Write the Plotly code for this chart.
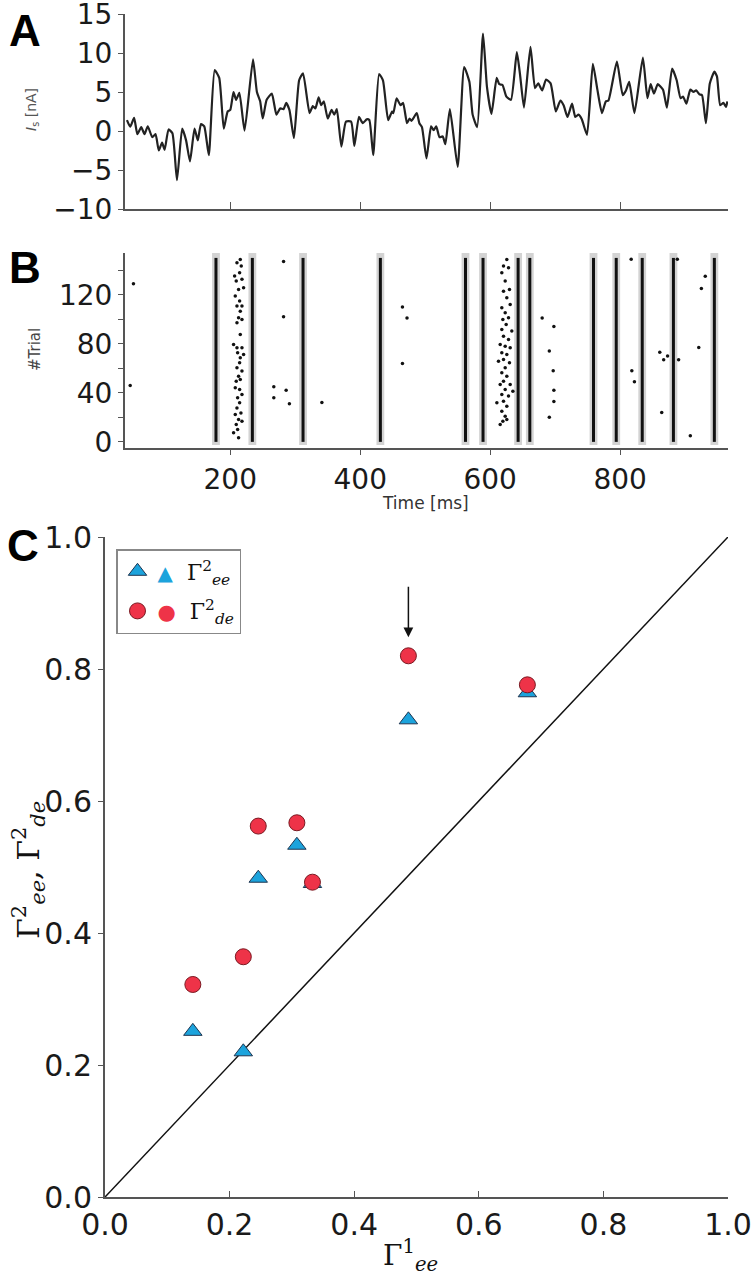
import plotly.graph_objects as go

# ---------------- Panel A: input current ----------------
time_a = [41, 46, 52, 57, 63, 68, 73, 80, 85, 90, 95, 99, 105, 111, 118, 126, 132, 138, 145, 150,
          155, 160, 167, 176, 183, 190, 196, 200, 205, 209, 214, 222, 235, 241, 246, 250, 256, 264,
          271, 277, 282, 286, 291, 298, 306, 312, 322, 327, 331, 336, 340, 344, 350, 356, 360, 364,
          371, 378, 386, 391, 398, 404, 410, 414, 420, 429, 435, 443, 449, 451, 456, 462, 466, 472,
          476, 479, 487, 491, 495, 502, 509, 513, 517, 522, 527, 531, 538, 550, 560, 568, 573, 580,
          589, 595, 602, 610, 614, 619, 625, 632, 641, 646, 652, 662, 669, 674, 680, 686, 693, 701,
          708, 713, 719, 726, 731, 736, 741, 749, 758, 765, 772, 778, 782, 795, 804, 809, 814, 822,
          835, 842, 847, 852, 858, 866, 872, 880, 887, 893, 897, 902, 908, 913, 917, 922, 926, 932,
          938, 945, 949, 954, 959, 963, 965]
current_a = [1.4, 0.55, 1.7, -0.4, 0.5, -0.4, 0.6, -0.8, -0.4, -2.5, -1.5, -2.4, 0.2, -0.3, -6.3,
             0.3, -1.2, -3.9, 0.3, -1.2, 0.9, 0.6, -3.1, 7.8, 6.8, 0.3, 2.5, 2.7, 5.0, 4.0, 4.9, 0.05,
             9.2, 5.0, 3.8, 1.6, 4.0, 4.8, 2.1, 2.9, 2.8, 3.6, 2.7, -0.9, 6.5, 7.4, 2.3, 3.2, 2.9, 4.3,
             3.3, 3.8, 1.6, 2.7, 2.1, 2.8, -2.0, 1.2, 1.2, -1.9, 1.8, 1.0, 1.5, 1.4, -3.1, 7.3, 6.5,
             1.4, 2.5, 2.3, 4.2, 3.3, 3.6, 1.0, 1.6, 1.3, 2.3, 1.0, 0.5, -3.5, 0.6, 0.1, 0.6, -0.8,
             -0.7, -1.7, 2.8, -4.6, 8.2, 6.3, 2.1, 0.5, 12.5, 5.7, 2.2, 6.8, 6.0, 5.9, 4.4, 4.0, 10.1,
             7.2, 3.0, 10.8, 5.5, 6.1, 5.2, 6.6, 6.1, 2.5, 3.9, 3.3, 1.8, 3.5, 1.8, 2.1, 1.5, -0.5,
             8.6, 5.3, 2.3, 3.8, 3.9, 8.9, 4.6, 5.2, 6.3, 2.3, 9.4, 4.2, 6.0, 4.8, 6.0, 5.3, 3.0, 8.0,
             6.5, 4.2, 4.4, 3.5, 5.3, 5.0, 5.2, 4.7, 4.6, 1.0, 6.1, 7.6, 7.0, 3.3, 3.6, 3.1, 3.8]

# ---------------- Panel B: raster ----------------
band_times = [178, 234, 312, 431, 562, 589, 643, 661, 759, 794, 834, 882, 945]
trial_span = [0, 150]
band_halfwidth = 6
extra_t = [215.4, 210.3, 216.9, 206.7, 214.4, 209.2, 218.0, 212.8, 220.5, 207.7, 214.4, 210.3, 218.0,
           215.4, 212.8, 218.0, 210.3, 215.4, 205.1, 210.3, 218.0, 211.3, 220.5, 215.4, 214.4, 210.3,
           218.0, 212.8, 215.4, 209.2, 207.7, 214.4, 218.0, 211.3, 214.4, 210.3, 216.4, 207.7, 212.8,
           218.0, 209.2, 211.3, 205.1, 212.8,
           625.6, 620.5, 628.2, 617.9, 623.1, 620.5, 629.7, 625.6, 617.9, 630.8, 623.1, 619.5, 628.2,
           624.6, 617.9, 633.3, 620.5, 628.2, 615.4, 623.1, 630.8, 617.9, 625.6, 620.5, 612.8, 629.7,
           623.1, 617.9, 625.6, 620.5, 615.4, 630.8, 623.1, 634.9, 617.9, 628.2, 610.3, 620.5, 625.6,
           617.9, 623.1, 619.5, 615.4, 625.6,
           51, 46, 282, 282, 267, 267, 286, 291, 341, 465, 472, 465, 680, 698, 691, 697, 698, 698, 691,
           817, 818, 822, 861, 867, 873, 890, 864, 888, 908, 921, 925, 931]
extra_trial = [148.8, 146.0, 143.3, 135.2, 137.9, 131.1, 132.5, 124.3, 125.7, 118.9, 114.8, 110.7,
               110.7, 106.6, 101.2, 99.8, 97.1, 87.6, 79.4, 76.7, 76.7, 72.6, 71.3, 68.6, 64.5, 60.4,
               57.7, 53.6, 50.9, 49.5, 44.1, 42.7, 38.6, 35.9, 31.8, 27.7, 23.6, 22.3, 18.2, 16.8,
               14.1, 10.1, 7.4, 3.3,
               148.8, 143.3, 142.0, 137.9, 131.1, 122.9, 124.3, 117.5, 109.3, 112.1, 105.2, 99.8,
               101.2, 95.7, 91.6, 90.3, 86.2, 83.5, 79.4, 78.0, 76.7, 72.6, 71.3, 67.2, 65.8, 64.5,
               60.4, 56.3, 53.6, 49.5, 46.8, 46.8, 42.7, 41.3, 38.6, 37.3, 31.8, 33.1, 29.1, 25.0,
               20.9, 16.8, 14.1, 18.2,
               129, 46, 147, 102, 45, 36, 42, 31, 32, 110, 101, 64, 101, 94, 74, 58, 42, 33, 20,
               149, 58, 49, 73, 67, 70, 67, 24, 149, 5, 77, 125, 135]

# ---------------- Panel C: scatter ----------------
gamma1_ee = [0.141, 0.222, 0.246, 0.308, 0.333, 0.487, 0.678]
gamma2_ee = [0.251, 0.220, 0.483, 0.533, 0.475, 0.723, 0.764]
gamma2_de = [0.322, 0.364, 0.562, 0.567, 0.477, 0.820, 0.776]
diag = [0, 1]
arrow_x, arrow_y_from, arrow_y_to = 0.487, 0.927, 0.848

BLUE, BLUE_EDGE = "#1ca3dc", "#1f3550"
RED, RED_EDGE = "#ee3348", "#7a1a22"

W, H = 755, 1280
def px(x):
    return x / W
def py(y):
    return 1 - y / H

TICKFONT = dict(family="DejaVu Sans", size=28, color="#1a1a1a")
TICKFONT_C = dict(family="DejaVu Sans", size=30, color="#1a1a1a")
AXCOL = "#555555"

fig = go.Figure()

# Panel A
fig.add_trace(go.Scatter(x=time_a, y=current_a, mode="lines",
                         line=dict(color="#222222", width=2.2, shape="spline", smoothing=0.5),
                         xaxis="x", yaxis="y", showlegend=False))

# Panel B: bands
bx, by = [], []
for t in band_times:
    bx += [t, t, None]
    by += [trial_span[0], trial_span[1], None]
fig.add_trace(go.Scatter(x=bx, y=by, mode="lines", line=dict(color="#111111", width=3),
                         xaxis="x2", yaxis="y2", showlegend=False))
fig.add_trace(go.Scatter(x=extra_t, y=extra_trial, mode="markers",
                         marker=dict(color="#111111", size=3.5),
                         xaxis="x2", yaxis="y2", showlegend=False))
for t in band_times:
    fig.add_shape(type="rect", xref="x2", yref="y2", x0=t - band_halfwidth, x1=t + band_halfwidth,
                  y0=-2.5, y1=155, fillcolor="#d3d3d3", line=dict(width=0), layer="below")

# Panel C
fig.add_trace(go.Scatter(x=diag, y=diag, mode="lines", line=dict(color="#111111", width=1.5),
                         xaxis="x3", yaxis="y3", showlegend=False))
fig.add_trace(go.Scatter(x=gamma1_ee, y=gamma2_ee, mode="markers", legendgroup="ee",
                         name=f"<span style='color:{BLUE};font-size:20px'>▲</span>  Γ<sup>2</sup><sub><i>ee</i></sub>",
                         marker=dict(symbol="triangle-up", size=16, color=BLUE,
                                     line=dict(color=BLUE_EDGE, width=1)),
                         xaxis="x3", yaxis="y3"))
fig.add_trace(go.Scatter(x=gamma1_ee, y=gamma2_de, mode="markers", legendgroup="de",
                         name=f"<span style='color:{RED};font-size:21px'>●</span>  Γ<sup>2</sup><sub><i>de</i></sub>",
                         marker=dict(symbol="circle", size=16, color=RED,
                                     line=dict(color=RED_EDGE, width=1)),
                         xaxis="x3", yaxis="y3"))

fig.add_annotation(x=arrow_x, y=arrow_y_to, ax=arrow_x, ay=arrow_y_from, xref="x3", yref="y3",
                   axref="x3", ayref="y3", showarrow=True, arrowhead=2, arrowsize=1.3,
                   arrowwidth=1.5, arrowcolor="#111111", text="")

xdomA = [px(125), px(728)]
common = dict(showgrid=False, zeroline=False, showline=True, linecolor=AXCOL, linewidth=2,
              tickcolor=AXCOL, mirror=False, automargin=False, ticklabeloverflow="allow")

fig.update_layout(
    width=W, height=H, margin=dict(l=0, r=0, t=0, b=0, autoexpand=False),
    paper_bgcolor="white", plot_bgcolor="white",
    xaxis=dict(domain=xdomA, range=[38, 966], anchor="y", tickvals=[200, 400, 600, 800],
               showticklabels=False, ticks="inside", ticklen=7, tickfont=TICKFONT, **common),
    yaxis=dict(domain=[py(209), py(14)], range=[-10, 15], anchor="x", tickvals=[-10, -5, 0, 5, 10, 15],
               ticktext=["−10", "−5", "0", "5", "10", "15"], ticks="outside", ticklen=5,
               tickfont=TICKFONT, **common),
    xaxis2=dict(domain=xdomA, range=[38, 966], anchor="y2", tickvals=[200, 400, 600, 800],
                ticks="outside", ticklen=5, tickfont=TICKFONT, **common),
    yaxis2=dict(domain=[py(448), py(253)], range=[-5, 154], anchor="x2",
                tickvals=[0, 20, 40, 60, 80, 100, 120, 140],
                ticktext=["0", "", "40", "", "80", "", "120", ""], ticks="outside", ticklen=5,
                tickfont=TICKFONT, **common),
    xaxis3=dict(domain=[px(105), px(728)], range=[0, 1], anchor="y3",
                tickvals=[0, 0.2, 0.4, 0.6, 0.8, 1.0], ticktext=["0.0", "0.2", "0.4", "0.6", "0.8", "1.0"],
                ticks="inside", ticklen=6, tickfont=TICKFONT_C, **common),
    yaxis3=dict(domain=[py(1197), py(537)], range=[0, 1], anchor="x3",
                tickvals=[0, 0.2, 0.4, 0.6, 0.8, 1.0], ticktext=["0.0", "0.2", "0.4", "0.6", "0.8", "1.0"],
                ticks="outside", ticklen=5, tickfont=TICKFONT_C, **common),
    legend=dict(x=px(116), y=py(549), xanchor="left", yanchor="top", bordercolor="#888888",
                borderwidth=1.5, bgcolor="white", tracegroupgap=8,
                font=dict(family="DejaVu Serif", size=22, color="#111111"), itemwidth=30),
)

# panel letters
for letter, (lx, ly) in {"A": (25, 30), "B": (25, 267), "C": (23, 545)}.items():
    fig.add_annotation(text=f"<b>{letter}</b>", x=px(lx), y=py(ly), xref="paper", yref="paper",
                       xanchor="center", yanchor="middle", showarrow=False,
                       font=dict(family="Liberation Sans", size=44, color="black"))

# axis titles
ann = dict(xref="paper", yref="paper", xanchor="center", yanchor="middle", showarrow=False)
fig.add_annotation(text="<i>I</i><sub>s</sub> [nA]", x=px(32), y=py(110), textangle=-90,
                   font=dict(family="DejaVu Sans", size=14, color="#555555"), **ann)
fig.add_annotation(text="#Trial", x=px(35), y=py(350), textangle=-90,
                   font=dict(family="DejaVu Sans", size=15, color="#444444"), **ann)
fig.add_annotation(text="Time [ms]", x=px(425), y=py(503),
                   font=dict(family="DejaVu Sans", size=17, color="#333333"), **ann)
fig.add_annotation(text="Γ<sup>2</sup><sub><i>ee</i></sub>, Γ<sup>2</sup><sub><i>de</i></sub>",
                   x=px(28), y=py(870), textangle=-90,
                   font=dict(family="DejaVu Serif", size=30, color="#111111"), **ann)
fig.add_annotation(text="Γ<sup>1</sup><sub><i>ee</i></sub>", x=px(410), y=py(1255),
                   font=dict(family="DejaVu Serif", size=28, color="#111111"), **ann)

fig.write_html("out.html", config={"displayModeBar": False},
               post_script="document.body.style.margin='0px';")
